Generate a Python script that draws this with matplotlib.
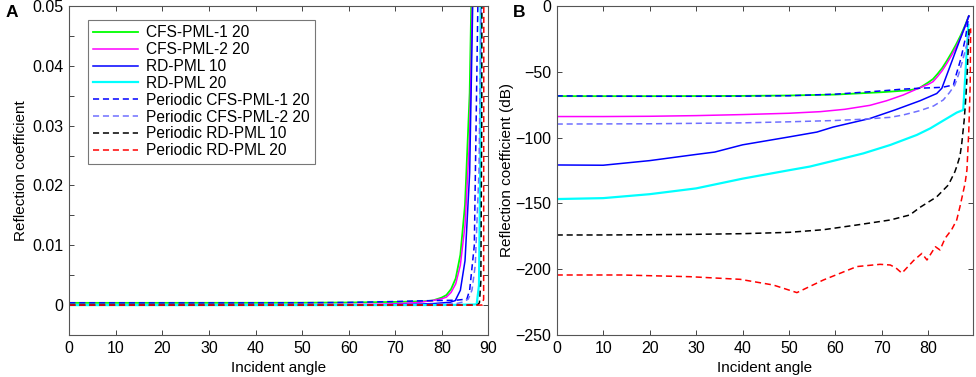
import numpy as np
import matplotlib.pyplot as plt
from matplotlib.ticker import MultipleLocator

plt.rcParams['font.family'] = ['Liberation Sans', 'DejaVu Sans']
plt.rcParams['font.size'] = 11

# reflection in dB, one angle list per curve
ang_cfs1 = [0, 10, 20, 30, 40, 50, 60, 70, 76, 78, 80, 81, 82, 83, 84, 85, 86, 87, 88, 88.7]
db_cfs1 = [-68.5, -68.5, -68.5, -68.4, -68.3, -68, -67.3, -65.5, -64, -62.5, -58, -55.5, -51.5, -47, -41.5, -35.5, -29, -22, -14, -7.6]

ang_cfs2 = [0, 10, 20, 30, 40, 50, 56.7, 62, 67.4, 71, 74.6, 77.9, 80, 81, 82, 83, 84, 85, 86, 87, 88, 88.7]
db_cfs2 = [-84, -84, -83.8, -83.3, -82.5, -81.5, -80.3, -78.5, -75.5, -72, -67.6, -62.5, -59.5, -57.5, -53.5, -49, -43.5, -37.5, -31, -23.5, -15, -7.6]

ang_rd10 = [0, 10, 20, 30, 34, 40, 50, 56, 59.5, 67.4, 72.8, 78.2, 81.8, 82.9, 84, 85, 86, 87, 88, 88.7]
db_rd10 = [-120.8, -121, -117.5, -112.8, -111, -105.5, -99.5, -95.8, -92, -85.5, -79, -72, -66.5, -62.5, -52.1, -42.6, -33.1, -23.7, -14.2, -7.6]

ang_rd20 = [0, 10, 20, 30, 40, 50, 54.5, 60.3, 66, 71.8, 77.5, 80.4, 83, 86.1, 87.5, 88, 88.3, 88.6]
db_rd20 = [-146.7, -146, -143, -138.6, -131.2, -124.8, -122, -117, -112, -105.6, -98, -93, -87.5, -81, -79, -49.6, -32, -14.4]

ang_pcfs1 = [0, 10, 20, 30, 40, 50, 60, 70, 74, 78, 83, 85.4, 86, 87, 88, 88.7]
db_pcfs1 = [-68.3, -68.5, -68.6, -68.6, -68.5, -68.2, -67, -64.5, -63.3, -62.5, -61.8, -60, -52, -40, -24, -7.6]

ang_pcfs2 = [0, 20, 40, 50, 60, 66, 71.8, 74.6, 78.2, 81.1, 83.2, 84.5, 85.7, 86.5, 87.2, 88, 88.6, 89]
db_pcfs2 = [-89.7, -89.5, -88.8, -88, -87, -86, -84.6, -82.8, -79.5, -76, -71.4, -66, -60, -52, -43.5, -33, -24.5, -20]

ang_prd10 = [0, 10, 20, 30, 40, 50, 57.4, 64.6, 71.8, 76, 78.2, 81.8, 84.3, 85.7, 86.1, 86.8, 87.2, 87.7, 88.1, 88.4, 88.6, 88.8]
db_prd10 = [-174, -174, -173.8, -173.5, -173, -172, -170, -166.4, -162.6, -158.8, -153, -145, -136, -126, -122, -114, -104, -87, -68, -48, -30, -15]

ang_prd20 = [0, 14, 28.7, 39.5, 46.6, 51.7, 57.4, 64.6, 69.6, 71.8, 73, 74.3, 76.8, 78.6, 79.7, 81.5, 82.5, 83.6, 85, 86.1,
             86.8, 87.9, 88.3, 88.7, 89, 89.1]
db_prd20 = [-204.4, -204.4, -205.7, -207.7, -212, -217.8, -208.2, -198, -196.3, -196.8, -199, -203, -193.5, -188, -193, -182.9,
            -185.4, -176.5, -170, -162.6, -152.5, -134.7, -124.6, -95, -60, -17]

labels = ['CFS-PML-1 20', 'CFS-PML-2 20', 'RD-PML 10', 'RD-PML 20',
          'Periodic CFS-PML-1 20', 'Periodic CFS-PML-2 20', 'Periodic RD-PML 10', 'Periodic RD-PML 20']
curves = [(ang_cfs1, db_cfs1), (ang_cfs2, db_cfs2), (ang_rd10, db_rd10), (ang_rd20, db_rd20),
          (ang_pcfs1, db_pcfs1), (ang_pcfs2, db_pcfs2), (ang_prd10, db_prd10), (ang_prd20, db_prd20)]
colors = ['#00ff00', '#ff00ff', '#0000ff', '#00ffff', '#0000ff', '#6f6fff', '#000000', '#ff0000']
styles = ['-', '-', '-', '-', '--', '--', '--', '--']
widths = [1.3, 1.1, 1.1, 1.6, 1.1, 1.1, 1.1, 1.1]

fig = plt.figure(figsize=(9.76, 3.77), dpi=100)
axA = fig.add_axes([0.0710, 0.1114, 0.4293, 0.8727])
axB = fig.add_axes([0.5704, 0.1114, 0.4265, 0.8727])

for (a, d), c, ls, lw, lab in zip(curves, colors, styles, widths, labels):
    a = np.array(a)
    d = np.array(d)
    dash = (4, 2.5) if ls == '--' else (None, None)
    axA.plot(a, 10 ** (d / 20), color=c, ls=ls, lw=lw, label=lab, dashes=dash)
    axB.plot(a, d, color=c, ls=ls, lw=lw, dashes=dash)

axA.set_xlim(0, 90)
axA.set_ylim(-0.005, 0.05)
axA.set_xticks(np.arange(0, 91, 10))
axA.set_yticks([0, 0.01, 0.02, 0.03, 0.04, 0.05])
axA.set_yticklabels(['0', '0.01', '0.02', '0.03', '0.04', '0.05'])
axA.yaxis.set_minor_locator(MultipleLocator(0.005))
axA.set_xlabel('Incident angle', labelpad=4)
axA.set_ylabel('Reflection coefficient', labelpad=3)

axB.set_xlim(0, 89.6)
axB.set_ylim(-250, 0)
axB.set_xticks(np.arange(0, 81, 10))
axB.set_yticks(np.arange(-250, 1, 50))
axB.set_yticklabels(['\u2212250', '\u2212200', '\u2212150', '\u2212100', '\u221250', '0'])
axB.set_xlabel('Incident angle', labelpad=4)
axB.set_ylabel('Reflection coefficient (dB)', labelpad=1)

for ax in (axA, axB):
    ax.tick_params(which='both', direction='in', top=True, right=True, labelsize=11.5, length=3.5, width=0.7,
                   color='#444444', pad=4)
    ax.tick_params(which='minor', length=3.5)
    for s in ax.spines.values():
        s.set_color('#555555')
        s.set_linewidth(0.8)
    ax.xaxis.label.set_size(11)
    ax.yaxis.label.set_size(11)

leg = axA.legend(loc='upper left', bbox_to_anchor=(0.044, 0.958), fontsize=11.2, handlelength=2.9,
                 labelspacing=0.12, borderpad=0.35, handletextpad=0.5, frameon=True, fancybox=False,
                 borderaxespad=0)
leg.get_frame().set_edgecolor('#555555')
leg.get_frame().set_linewidth(0.8)

fig.text(0.006, 0.955, 'A', fontsize=12.5, fontweight='bold')
fig.text(0.525, 0.955, 'B', fontsize=12.5, fontweight='bold')

fig.savefig('out.png', dpi=100)
